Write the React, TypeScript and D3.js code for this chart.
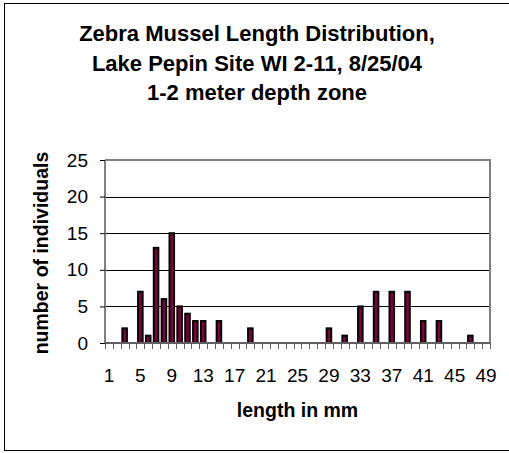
import React, { useEffect, useRef } from "react";
import * as d3 from "d3";

// length classes (mm) and number of individuals per class
const lengths: number[] = d3.range(1, 50);
const counts: number[] = [
  0, 0, 2, 0, 7, 1, 13, 6, 15, 5,
  4, 3, 3, 0, 3, 0, 0, 0, 2, 0,
  0, 0, 0, 0, 0, 0, 0, 0, 2, 0,
  1, 0, 5, 0, 7, 0, 7, 0, 7, 0,
  3, 0, 3, 0, 0, 0, 1, 0, 0,
];
const yTicks: number[] = [0, 5, 10, 15, 20, 25];
const xTickLabels: number[] = [1, 5, 9, 13, 17, 21, 25, 29, 33, 37, 41, 45, 49];
const titleLines: string[] = [
  "Zebra Mussel Length Distribution,",
  "Lake Pepin Site WI 2-11, 8/25/04",
  "1-2 meter depth zone",
];

export default function App() {
  const svgRef = useRef<SVGSVGElement>(null);

  useEffect(() => {
    const width = 509;
    const height = 453;
    const margin = { top: 160, right: 19, bottom: 110, left: 105 };
    const boundedWidth = width - margin.left - margin.right;
    const boundedHeight = height - margin.top - margin.bottom;

    const svg = d3.select(svgRef.current);
    svg.selectAll("*").remove();
    svg.attr("width", width).attr("height", height);

    const font = "Arial, 'Liberation Sans', sans-serif";

    // outer frame
    svg.append("rect")
      .attr("x", 4.5).attr("y", 3.5)
      .attr("width", 520).attr("height", 447)
      .attr("fill", "white").attr("stroke", "black").attr("stroke-width", 1);

    // title
    svg.append("text")
      .attr("x", 257)
      .attr("y", 41)
      .attr("text-anchor", "middle")
      .style("font-family", font)
      .style("font-weight", "bold")
      .style("font-size", "22px")
      .selectAll("tspan")
      .data(titleLines)
      .join("tspan")
      .attr("x", 257)
      .attr("dy", (d, i) => (i === 0 ? 0 : 29.5))
      .text(d => d);

    const bounds = svg.append("g")
      .attr("transform", `translate(${margin.left}, ${margin.top})`);

    const xScale = d3.scaleBand<number>()
      .domain(lengths)
      .range([0, boundedWidth])
      .paddingInner(0.42)
      .paddingOuter(0.21);

    const yScale = d3.scaleLinear()
      .domain([0, 25])
      .range([boundedHeight, 0]);

    // gridlines
    bounds.selectAll(".grid")
      .data(yTicks.filter(t => t > 0 && t < 25))
      .join("line")
      .attr("x1", 0).attr("x2", boundedWidth)
      .attr("y1", d => Math.round(yScale(d)) + 0.5)
      .attr("y2", d => Math.round(yScale(d)) + 0.5)
      .attr("stroke", "#000")
      .attr("stroke-width", 1);

    // plot frame top and right
    bounds.append("path")
      .attr("d", `M0,${yScale(25)}H${boundedWidth}V${boundedHeight}`)
      .attr("fill", "none")
      .attr("stroke", "#808080")
      .attr("stroke-width", 2);

    // bars
    const step = xScale.step();
    bounds.selectAll(".bar")
      .data(lengths.map((l, i) => ({ l, c: counts[i] })).filter(d => d.c > 0))
      .join("rect")
      .attr("x", d => (xScale(d.l) as number))
      .attr("y", d => yScale(d.c))
      .attr("width", xScale.bandwidth())
      .attr("height", d => boundedHeight - yScale(d.c))
      .attr("fill", "#800040")
      .attr("stroke", "#000")
      .attr("stroke-width", 2);

    // y axis
    const yAxis = bounds.append("g")
      .call(d3.axisLeft(yScale).tickValues(yTicks).tickSize(5).tickPadding(12))
      .call(g => g.select(".domain").attr("stroke", "#808080").attr("stroke-width", 2)
        .attr("d", `M0,0V${boundedHeight}`));
    yAxis.selectAll("text")
      .style("font-family", font)
      .style("font-size", "19px")
      .attr("fill", "#000");

    // x axis
    const xAxisG = bounds.append("g")
      .attr("transform", `translate(0, ${boundedHeight})`);
    xAxisG.append("line")
      .attr("x1", 0).attr("x2", boundedWidth)
      .attr("y1", 0).attr("y2", 0)
      .attr("stroke", "#606060").attr("stroke-width", 2);
    xAxisG.selectAll(".xtick")
      .data(d3.range(0, lengths.length + 1))
      .join("line")
      .attr("x1", i => Math.round(i * step) + 0.5)
      .attr("x2", i => Math.round(i * step) + 0.5)
      .attr("y1", 0).attr("y2", 6)
      .attr("stroke", "#606060").attr("stroke-width", 1);
    xAxisG.selectAll(".xlabel")
      .data(xTickLabels)
      .join("text")
      .attr("x", d => (xScale(d) as number) + xScale.bandwidth() / 2)
      .attr("y", 39)
      .attr("text-anchor", "middle")
      .style("font-family", font)
      .style("font-size", "19px")
      .text(d => d);

    // axis titles
    svg.append("text")
      .attr("x", margin.left + boundedWidth / 2)
      .attr("y", 417)
      .attr("text-anchor", "middle")
      .style("font-family", font)
      .style("font-weight", "bold")
      .style("font-size", "19.5px")
      .text("length in mm");

    svg.append("text")
      .attr("transform", `translate(48, 253) rotate(-90)`)
      .attr("text-anchor", "middle")
      .style("font-family", font)
      .style("font-weight", "bold")
      .style("font-size", "19.5px")
      .text("number of individuals");
  }, []);

  return (
    <div>
      <svg ref={svgRef} style={{ display: "block", position: "absolute", left: 0, top: 0 }} />
    </div>
  );
}
